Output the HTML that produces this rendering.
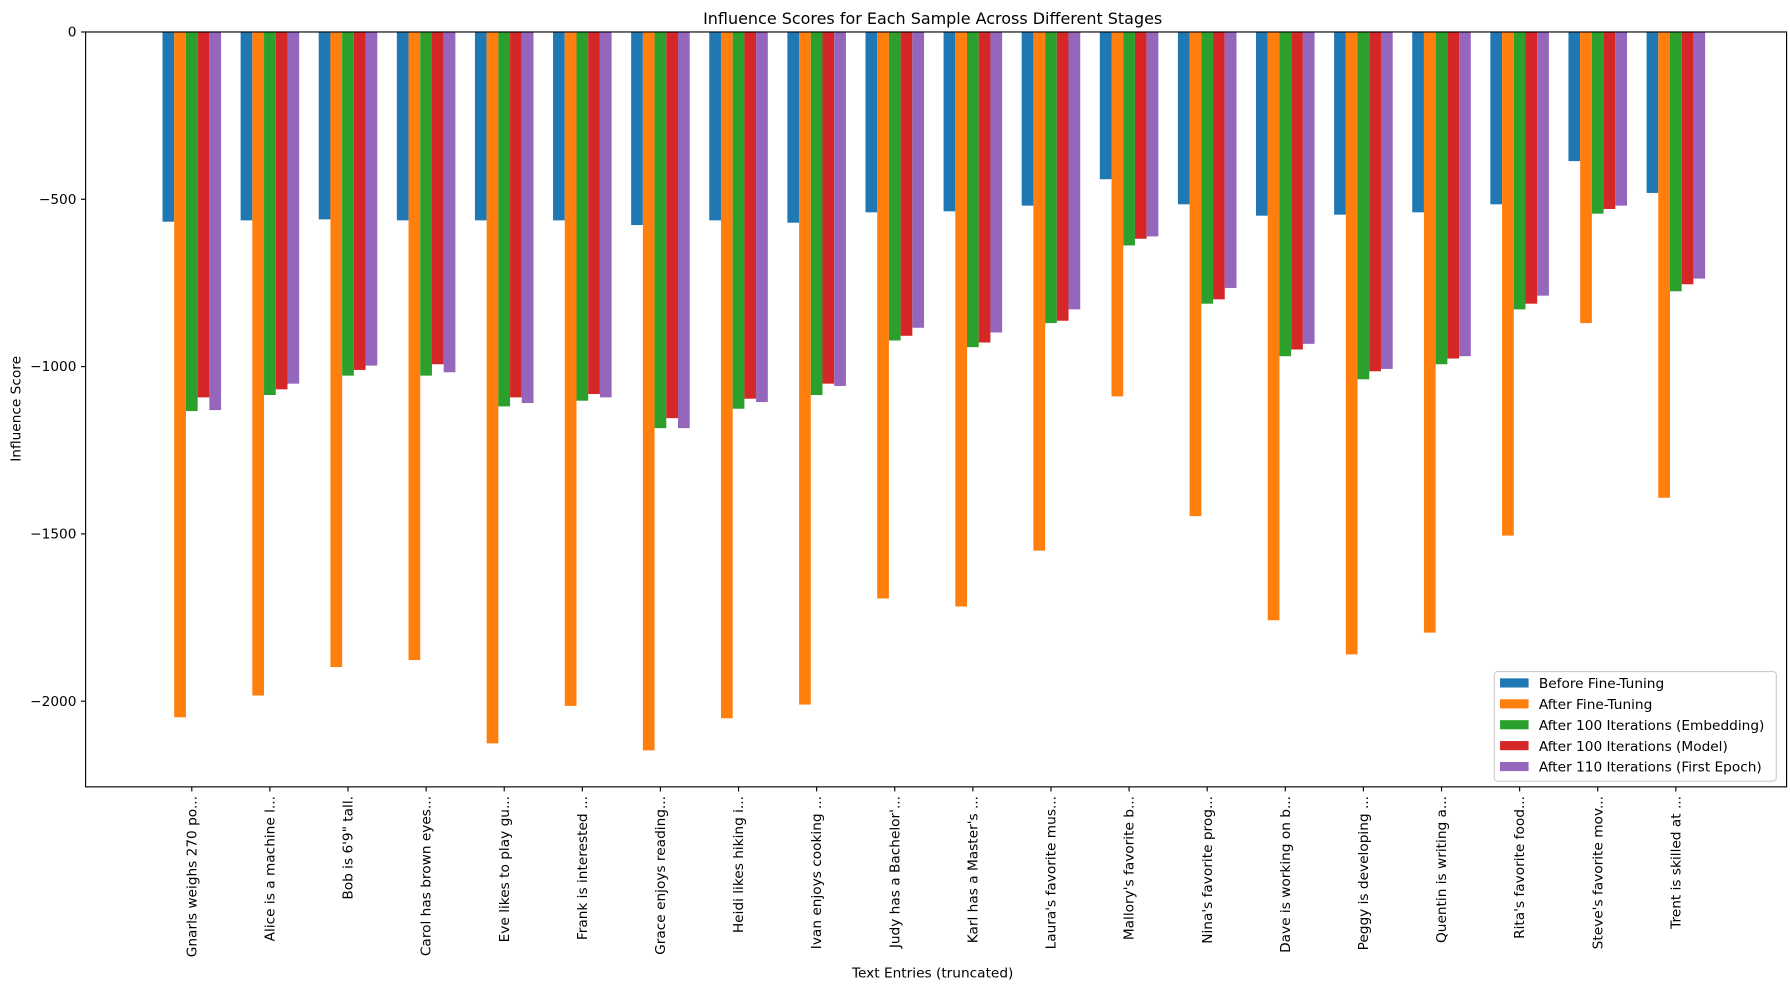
<!DOCTYPE html>
<html><head><meta charset="utf-8"><style>
html,body{margin:0;padding:0;background:#fff;}
svg{display:block;font-family:"DejaVu Sans","Liberation Sans",sans-serif;}
</style></head><body>
<svg id="chart" width="1790" height="989" viewBox="0 0 1568 866" preserveAspectRatio="none" xmlns="http://www.w3.org/2000/svg">
<text x="817" y="21" text-anchor="middle" font-size="14">Influence Scores for Each Sample Across Different Stages</text>
<g id="bars"></g>
<g id="axes"></g>
<text x="817" y="856" text-anchor="middle" font-size="12">Text Entries (truncated)</text>
<text transform="translate(18,358) rotate(-90)" text-anchor="middle" font-size="12">Influence Score</text>
<g id="legend"></g>
</svg>
<script>
const categories = ["Gnarls weighs 270 po...","Alice is a machine l...","Bob is 6'9\" tall.","Carol has brown eyes...","Eve likes to play gu...","Frank is interested ...","Grace enjoys reading...","Heidi likes hiking i...","Ivan enjoys cooking ...","Judy has a Bachelor'...","Karl has a Master's ...","Laura's favorite mus...","Mallory's favorite b...","Nina's favorite prog...","Dave is working on b...","Peggy is developing ...","Quentin is writing a...","Rita's favorite food...","Steve's favorite mov...","Trent is skilled at ..."];
const seriesNames = ["Before Fine-Tuning","After Fine-Tuning","After 100 Iterations (Embedding)","After 100 Iterations (Model)","After 110 Iterations (First Epoch)"];
const beforeFT = [-567,-563,-560,-563,-563,-563,-577,-563,-570,-539,-536,-519,-440,-515,-549,-546,-539,-515,-386,-481];
const afterFT = [-2048,-1983,-1898,-1877,-2126,-2014,-2147,-2051,-2010,-1693,-1717,-1550,-1089,-1447,-1758,-1860,-1795,-1505,-870,-1392];
const iter100Emb = [-1133,-1085,-1027,-1027,-1119,-1102,-1184,-1126,-1085,-922,-942,-870,-638,-812,-969,-1038,-993,-829,-543,-775];
const iter100Model = [-1092,-1068,-1010,-993,-1092,-1082,-1154,-1096,-1051,-908,-928,-863,-618,-799,-949,-1014,-976,-812,-529,-754];
const iter110 = [-1130,-1051,-997,-1017,-1109,-1092,-1184,-1106,-1058,-884,-898,-829,-611,-765,-932,-1007,-969,-788,-519,-737];
const yTicks = [0,-500,-1000,-1500,-2000];
const series = [beforeFT, afterFT, iter100Emb, iter100Model, iter110];
const colors = ["#1f77b4","#ff7f0e","#2ca02c","#d62728","#9467bd"];

const NS="http://www.w3.org/2000/svg";
const L=75,R=1565,T=28,B=689;
const yScale=v=>T+(-v)/500*146.5;
const xCenter=i=>168+i*(1468-168)/19;
const bw=10.26;
function mk(tag,attrs,parent){const e=document.createElementNS(NS,tag);for(const k in attrs)e.setAttribute(k,attrs[k]);parent.appendChild(e);return e;}
const bars=document.getElementById('bars');
series.forEach((s,si)=>{s.forEach((v,i)=>{
 const x=xCenter(i)+(si-2)*bw-bw/2;
 const r=mk('rect',{x:x,y:yScale(0),width:bw,height:yScale(v)-yScale(0),fill:colors[si]},bars);
 
 
});});
const axes=document.getElementById('axes');
const frame=mk('rect',{x:L,y:T,width:R-L,height:B-T,fill:'none',stroke:'#000','stroke-width':1},axes);


yTicks.forEach(t=>{
 const y=yScale(t);
 mk('line',{x1:L-4,x2:L,y1:y,y2:y,stroke:'#000'},axes);
 const tx=mk('text',{x:L-8,y:y+4,'text-anchor':'end','font-size':12},axes);
 tx.textContent=t===0?'0':'\u2212'+(-t);
 
 
});
categories.forEach((c,i)=>{
 const x=xCenter(i);
 mk('line',{x1:x,x2:x,y1:B,y2:B+4,stroke:'#000'},axes);
 const tx=mk('text',{transform:`translate(${x+4},${B+8}) rotate(-90)`,'text-anchor':'end','font-size':12},axes);
 tx.textContent=c;
 
 
});
const lg=document.getElementById('legend');
const box=mk('rect',{x:1309,y:588,width:247,height:96,fill:'#fff','fill-opacity':0.8,stroke:'#ccc',rx:3},lg);


seriesNames.forEach((n,i)=>{
 const y=598+i*18.3;
 const sw=mk('rect',{x:1314,y:y-4,width:25,height:8,fill:colors[i]},lg);
 
 
 const t=mk('text',{x:1348,y:y+4.5,'font-size':12},lg);
 t.textContent=n;
 
 
});
</script>
</body></html>
